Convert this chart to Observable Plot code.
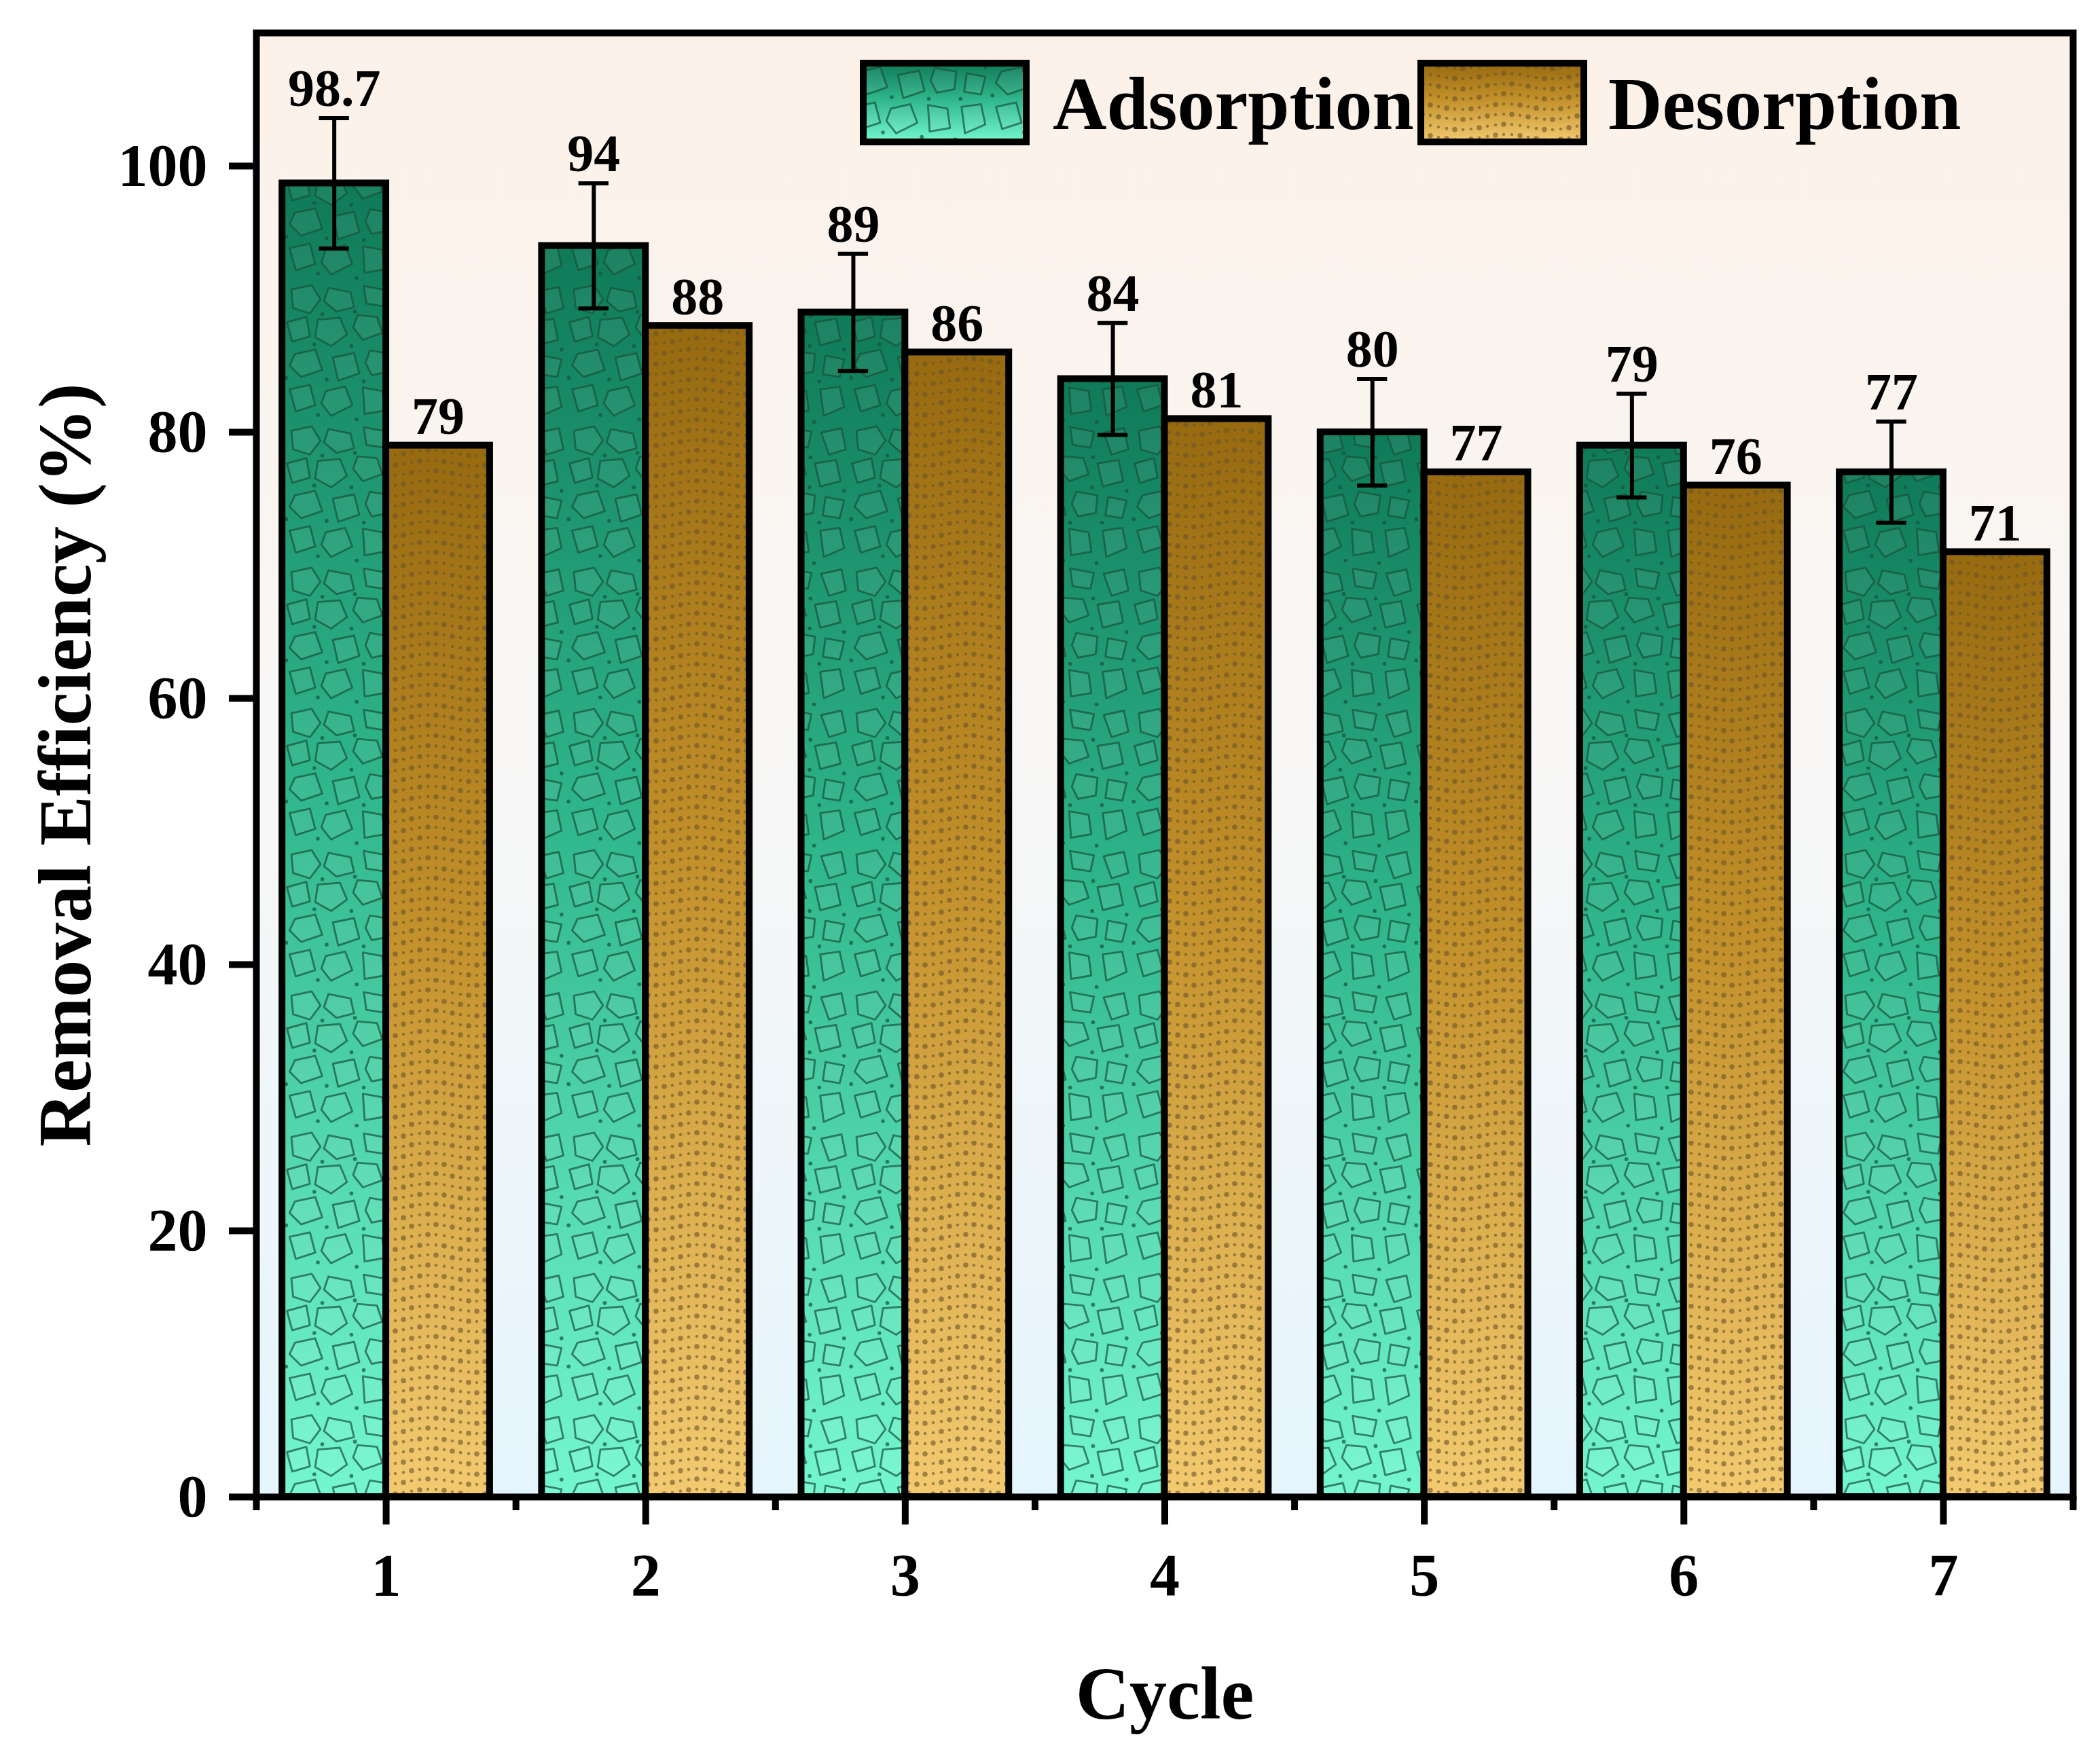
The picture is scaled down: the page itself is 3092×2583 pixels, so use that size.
<!DOCTYPE html>
<html><head><meta charset="utf-8">
<script src="https://cdn.jsdelivr.net/npm/d3@7"></script>
<script src="https://cdn.jsdelivr.net/npm/@observablehq/plot@0.6"></script>
<style>html,body{margin:0;padding:0;background:#fff;}</style>
</head><body><div id="chart"></div>
<script>
// ---- data ----
const cycles = [1, 2, 3, 4, 5, 6, 7];
const adsorption = [98.7, 94, 89, 84, 80, 79, 77];
const adsorptionErr = [4.9, 4.7, 4.4, 4.2, 4.0, 3.9, 3.8];
const desorption = [79, 88, 86, 81, 77, 76, 71];
const yTicks = [0, 20, 40, 60, 80, 100];
const xMinorTicks = [0.5, 1.5, 2.5, 3.5, 4.5, 5.5, 6.5, 7.5];
const seriesNames = ["Adsorption", "Desorption"];
const xTitle = "Cycle";
const yTitle = "Removal Efficiency (%)";

const ads = cycles.map((c, i) => ({cycle: c, value: adsorption[i], err: adsorptionErr[i]}));
const des = cycles.map((c, i) => ({cycle: c, value: desorption[i]}));

const font = "'Liberation Serif','Times New Roman',Times,serif";
const BW = 0.4;      // bar width (x units)
const CAP = 0.058;   // half cap width

const adsX1 = d => d.cycle - BW, adsX2 = d => d.cycle;
const desX1 = d => d.cycle, desX2 = d => d.cycle + BW;
const zero = d => 0;

const plot = Plot.plot({
  width: 3092, height: 2583,
  marginLeft: 377, marginRight: 40, marginTop: 48, marginBottom: 379,
  style: `font-family:${font};font-weight:bold;background:#fff;color:#000;`,
  x: {domain: [0.5, 7.5]},
  y: {domain: [0, 110]},
  marks: [
    Plot.frame({fill: "url(#bgGrad)", stroke: null}),
    Plot.rect(ads, {x1: adsX1, x2: adsX2, y1: zero, y2: "value", fill: "url(#gradA)"}),
    Plot.rect(ads, {x1: adsX1, x2: adsX2, y1: zero, y2: "value", fill: "url(#texA)"}),
    Plot.rect(ads, {x1: adsX1, x2: adsX2, y1: zero, y2: "value", fill: "none", stroke: "#000", strokeWidth: 10}),
    Plot.rect(des, {x1: desX1, x2: desX2, y1: zero, y2: "value", fill: "url(#gradD)"}),
    Plot.rect(des, {x1: desX1, x2: desX2, y1: zero, y2: "value", fill: "url(#texD)"}),
    Plot.rect(des, {x1: desX1, x2: desX2, y1: zero, y2: "value", fill: "none", stroke: "#000", strokeWidth: 10}),
    Plot.ruleX(ads, {x: d => d.cycle - BW / 2, y1: d => d.value - d.err, y2: d => d.value + d.err, stroke: "#000", strokeWidth: 6}),
    Plot.ruleY(ads, {y: d => d.value + d.err, x1: d => d.cycle - BW / 2 - CAP, x2: d => d.cycle - BW / 2 + CAP, stroke: "#000", strokeWidth: 6}),
    Plot.ruleY(ads, {y: d => d.value - d.err, x1: d => d.cycle - BW / 2 - CAP, x2: d => d.cycle - BW / 2 + CAP, stroke: "#000", strokeWidth: 6}),
    Plot.text(ads, {x: d => d.cycle - BW / 2, y: d => d.value + d.err, text: d => String(d.value), dy: -18, lineAnchor: "bottom", fontSize: 78, fontWeight: "bold", fill: "#000"}),
    Plot.text(des, {x: d => d.cycle + BW / 2, y: "value", text: d => String(d.value), dy: -17, lineAnchor: "bottom", fontSize: 78, fontWeight: "bold", fill: "#000"}),
    Plot.frame({stroke: "#000", strokeWidth: 10}),
    Plot.axisY({ticks: yTicks, tickFormat: d => String(d), tickSize: 40, tickPadding: 32, fontSize: 88, strokeWidth: 10, label: null, stroke: "#000", fill: "#000"}),
    Plot.axisX({ticks: cycles, tickFormat: d => String(d), tickSize: 41, tickPadding: 41, fontSize: 88, strokeWidth: 10, label: null, stroke: "#000", fill: "#000"}),
    Plot.axisX({ticks: xMinorTicks, tickSize: 20, tickFormat: () => "", strokeWidth: 10, label: null, stroke: "#000"}),
    Plot.text([xTitle], {frameAnchor: "bottom", dy: 326, lineAnchor: "bottom", textAnchor: "middle", fontSize: 110, fontWeight: "bold", fill: "#000"}),
    Plot.text([yTitle], {frameAnchor: "left", dx: -280, rotate: -90, lineAnchor: "middle", textAnchor: "middle", fontSize: 110, fontWeight: "bold", fill: "#000"})
  ]
});

// ---- defs: gradients and textures ----
const svg = d3.select(plot);
const defs = svg.insert("defs", ":first-child");
function vgrad(id, stops) {
  const g = defs.append("linearGradient").attr("id", id).attr("x1", 0).attr("y1", 0).attr("x2", 0).attr("y2", 1);
  stops.forEach(([o, c]) => g.append("stop").attr("offset", o).attr("stop-color", c));
}
vgrad("bgGrad", [["0%", "#fcf1e8"], ["50%", "#f8f7f6"], ["100%", "#e5f5fd"]]);
vgrad("gradA", [["0%", "#0f7a58"], ["45%", "#2fb58a"], ["100%", "#74f7cf"]]);
vgrad("gradD", [["0%", "#976a10"], ["45%", "#c2902a"], ["100%", "#f3ca70"]]);

// stone texture
const pA = defs.append("pattern").attr("id", "texA").attr("patternUnits", "userSpaceOnUse")
  .attr("width", 160).attr("height", 160).attr("patternTransform", "scale(1.3)");
const stones = [
  "M10,8 L33,3 L43,19 L31,35 L12,29 Z", "M52,6 L77,11 L81,28 L61,33 L47,21 Z",
  "M92,4 L119,9 L115,27 L95,24 Z", "M130,10 L153,5 L158,29 L139,35 Z",
  "M5,45 L27,39 L31,61 L11,67 Z", "M40,42 L65,40 L73,59 L55,72 L37,62 Z",
  "M85,37 L107,39 L113,57 L91,65 L80,51 Z", "M123,45 L147,41 L152,65 L129,71 Z",
  "M14,81 L37,76 L45,99 L21,107 L8,94 Z", "M57,85 L81,80 L87,103 L63,111 Z",
  "M99,77 L123,81 L121,101 L101,105 L94,91 Z", "M135,83 L156,87 L151,107 L132,104 Z",
  "M8,121 L31,116 L37,139 L15,146 Z", "M49,123 L71,118 L79,139 L55,151 L44,137 Z",
  "M91,119 L113,123 L116,145 L93,149 Z", "M129,121 L151,118 L156,141 L133,151 Z"
];
stones.forEach(p => pA.append("path").attr("d", p).attr("fill", "#ffffff").attr("fill-opacity", 0.06)
  .attr("stroke", "#15533e").attr("stroke-opacity", 0.7).attr("stroke-width", 2.2).attr("stroke-linejoin", "round"));
[[45,36],[82,33],[118,38],[36,70],[78,72],[117,72],[50,110],[92,112],[128,112],[40,150],[84,155],[122,158],[156,76],[4,108]]
  .forEach(([x, y]) => pA.append("circle").attr("cx", x).attr("cy", y).attr("r", 2.2).attr("fill", "#15533e").attr("fill-opacity", 0.7));

// dotted texture
const pD = defs.append("pattern").attr("id", "texD").attr("patternUnits", "userSpaceOnUse")
  .attr("width", 132).attr("height", 120);
for (let r = 0; r < 8; r++) {
  for (let k = 0; k < 11; k++) {
    const x = k * 12 + 6;
    const y = r * 15 + 7 + 4 * Math.sin((k / 11) * Math.PI * 2);
    pD.append("circle").attr("cx", x).attr("cy", y).attr("r", (k + r) % 3 === 0 ? 3.8 : 2.3)
      .attr("fill", "#6a5326").attr("fill-opacity", 0.6);
  }
}

// ---- legend ----
const leg = svg.append("g").attr("text-anchor", "start");
const items = [
  {name: seriesNames[0], x: 1271, grad: "url(#gradA)", tex: "url(#texA)", tx: 1550},
  {name: seriesNames[1], x: 2092, grad: "url(#gradD)", tex: "url(#texD)", tx: 2368}
];
items.forEach(it => {
  leg.append("rect").attr("x", it.x).attr("y", 93).attr("width", 240).attr("height", 116).attr("fill", it.grad);
  leg.append("rect").attr("x", it.x).attr("y", 93).attr("width", 240).attr("height", 116).attr("fill", it.tex);
  leg.append("rect").attr("x", it.x).attr("y", 93).attr("width", 240).attr("height", 116)
    .attr("fill", "none").attr("stroke", "#000").attr("stroke-width", 10);
  leg.append("text").attr("x", it.tx).attr("y", 190).attr("font-size", 110).attr("font-weight", "bold")
    .attr("text-anchor", "start").attr("font-family", font).attr("fill", "#000").text(it.name);
});

document.getElementById("chart").appendChild(plot);
</script>
</body></html>
